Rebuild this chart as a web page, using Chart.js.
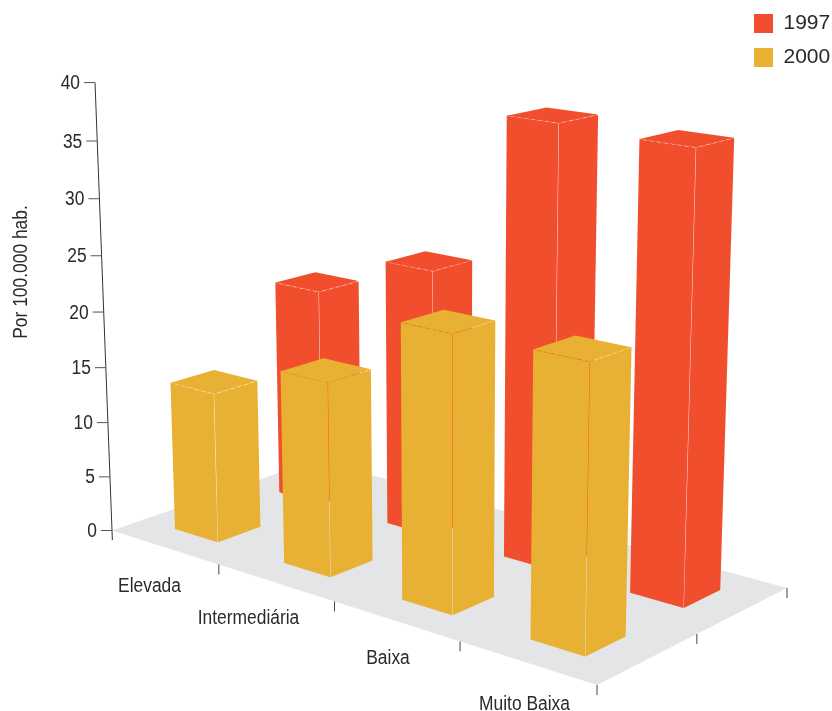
<!DOCTYPE html>
<html><head><meta charset="utf-8">
<style>html,body{margin:0;padding:0;background:#fff}canvas{display:block}</style>
<script src="https://cdn.jsdelivr.net/npm/chart.js@4"></script>
</head><body><canvas id="c" width="832" height="711"></canvas>
<script>
const categories = ['Elevada','Intermediária','Baixa','Muito Baixa'];
const series1997 = [20, 24, 38.35, 38];
const series2000 = [13.5, 17, 23.5, 23.65];
const seriesNames = ['1997','2000'];
const yTitle = 'Por 100.000 hab.';

const RED='#F04E2C', YEL='#E9B134', FLOOR='#E4E5E7', INK='#2b2a29';
// projection: floor corners and vertical vanishing behaviour of the 3D scene
const A=[112,530.5],B=[597,685],C=[787,588],D=[316,460];
const VK=-0.04811, VP=[448,9393];
function homography(){
  const dx1=B[0]-C[0],dx2=D[0]-C[0],sx=A[0]-B[0]+C[0]-D[0];
  const dy1=B[1]-C[1],dy2=D[1]-C[1],sy=A[1]-B[1]+C[1]-D[1];
  const den=dx1*dy2-dx2*dy1;
  const g=(sx*dy2-dx2*sy)/den,h=(dx1*sy-sx*dy1)/den;
  return {a:B[0]-A[0]+g*B[0],b:D[0]-A[0]+h*D[0],c:A[0],d:B[1]-A[1]+g*B[1],e:D[1]-A[1]+h*D[1],f:A[1],g,h};
}
const H=homography();
function proj(u,v,w){ // u along categories, v height (0..1), w depth (0..1)
  const X=H.a*u+H.b*w+H.c+v*VK*VP[0];
  const Y=H.d*u+H.e*w+H.f+v*VK*VP[1];
  const W=H.g*u+H.h*w+1+v*VK;
  return [X/W,Y/W];
}
const HALF_U=0.05,HALF_W=0.1,ROW_W=[0.75,0.246];

function poly(ctx,pts,fill,dx,dy){ctx.beginPath();pts.forEach((p,i)=>i?ctx.lineTo(p[0]+(dx||0),p[1]+(dy||0)):ctx.moveTo(p[0]+(dx||0),p[1]+(dy||0)));ctx.closePath();ctx.fillStyle=fill;ctx.fill();}
function seg(ctx,p,q,color,w,dash){ctx.beginPath();ctx.setLineDash(dash||[]);ctx.moveTo(p[0],p[1]);ctx.lineTo(q[0],q[1]);ctx.strokeStyle=color;ctx.lineWidth=w;ctx.stroke();ctx.setLineDash([]);}
function text(ctx,s,x,y,align,rot){ctx.save();ctx.translate(x,y);if(rot)ctx.rotate(rot);ctx.scale(0.87,1);ctx.font='20px "Liberation Sans"';ctx.fillStyle=INK;ctx.textAlign=align;ctx.textBaseline='alphabetic';ctx.fillText(s,0,0);ctx.restore();}

const LABEL_AT=[[149.5,592],[248.5,624],[388,664],[524.5,710]];
const scene3d={id:'scene3d',
 beforeDatasetsDraw(chart){
  const ctx=chart.ctx,xs=chart.scales.x,ys=chart.scales.y;
  const U=i=>(xs.getPixelForValue(i)-xs.left)/xs.width;
  const V=val=>(ys.bottom-ys.getPixelForValue(val))/ys.height;
  ctx.save();
  poly(ctx,[proj(0,0,0),proj(1,0,0),proj(1,0,1),proj(0,0,1)],FLOOR);
  // y axis
  const top=proj(0,1,0),bot=proj(0,-0.0225,0);
  seg(ctx,top,bot,'#333',1);
  ys.ticks.forEach(t=>{const p=proj(0,V(t.value),0);seg(ctx,[p[0]-11,p[1]],p,'#555',1);text(ctx,String(t.value),p[0]-15,p[1]+6.5,'right');});
  text(ctx,yTitle,27,272,'center',-Math.PI/2);
  // floor ticks
  categories.forEach((c,i)=>{const p=proj((i+1)/categories.length,0,0);seg(ctx,p,[p[0],p[1]+10],'#444',1);text(ctx,c,LABEL_AT[i][0],LABEL_AT[i][1],'center');});
  [0.5,1].forEach(w=>{const p=proj(1,0,w);seg(ctx,p,[p[0],p[1]+10],'#444',1);});
  // bars back to front; a hairline gap between faces lets the background show through as the seam
  chart.data.datasets.forEach((ds,d)=>{
   ds.data.forEach((val,i)=>{
    const u=U(i),w=ROW_W[d],v=V(val),col=ds.backgroundColor;
    const u0=u-HALF_U,u1=u+HALF_U,w0=w-HALF_W,w1=w+HALF_W;
    const LB=proj(u0,0,w0),FB=proj(u1,0,w0),RB=proj(u1,0,w1);
    const LT=proj(u0,v,w0),FT=proj(u1,v,w0),RT=proj(u1,v,w1),BT=proj(u0,v,w1);
    poly(ctx,[LB,FB,FT,LT],col,-0.2,0);
    poly(ctx,[FB,RB,RT,FT],col,0.2,0);
    poly(ctx,[LT,FT,RT,BT],col,0,-0.4);
    seg(ctx,[LT[0],LT[1]-0.2],[FT[0],FT[1]-0.2],col,0.8,[4,3]);
    seg(ctx,[FT[0],FT[1]-0.2],[RT[0],RT[1]-0.2],col,0.8,[4,3]);
   });
  });
  ctx.restore();
 },
 beforeDatasetDraw(){return false;}
};
new Chart(document.getElementById('c'),{
 type:'bar',
 data:{labels:categories,datasets:[
  {label:seriesNames[0],data:series1997,backgroundColor:RED},
  {label:seriesNames[1],data:series2000,backgroundColor:YEL}]},
 options:{responsive:false,animation:false,
  scales:{x:{display:false},y:{display:false,min:0,max:40,ticks:{stepSize:5}}},
  plugins:{tooltip:{enabled:false},
   legend:{position:'right',align:'start',maxWidth:91,
    labels:{boxWidth:19,boxHeight:19,padding:13,color:INK,font:{family:'"Liberation Sans"',size:21}}}}},
 plugins:[scene3d]
});
</script></body></html>
